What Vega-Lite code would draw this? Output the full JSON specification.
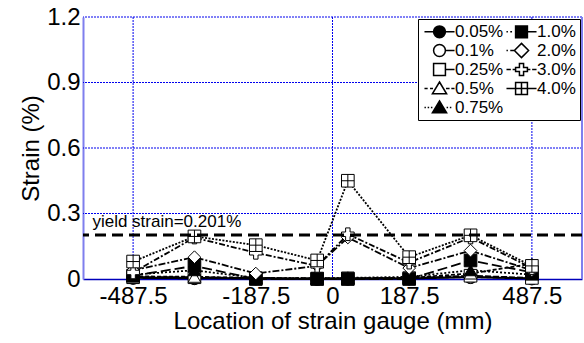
{
  "$schema": "https://vega.github.io/schema/vega-lite/v6.json",
  "width": 499,
  "height": 262,
  "autosize": "none",
  "padding": {"left": 83, "top": 17, "right": 2, "bottom": 64},
  "background": "white",
  "config": {
    "view": {"stroke": null},
    "font": "Liberation Sans",
    "axis": {"labelFont": "Liberation Sans", "titleFont": "Liberation Sans", "labelColor": "black", "titleColor": "black", "titleFontWeight": "normal"}
  },
  "datasets": {
    "strain": [
      {"loc": -487.5, "series": "0.05%", "strain": 0.005}, {"loc": -337.5, "series": "0.05%", "strain": 0.003}, {"loc": -187.5, "series": "0.05%", "strain": 0.002}, {"loc": -37.5, "series": "0.05%", "strain": 0.0}, {"loc": 37.5, "series": "0.05%", "strain": 0.001}, {"loc": 187.5, "series": "0.05%", "strain": 0.002}, {"loc": 337.5, "series": "0.05%", "strain": 0.008}, {"loc": 487.5, "series": "0.05%", "strain": 0.002},
      {"loc": -487.5, "series": "0.1%", "strain": 0.006}, {"loc": -337.5, "series": "0.1%", "strain": 0.006}, {"loc": -187.5, "series": "0.1%", "strain": 0.003}, {"loc": -37.5, "series": "0.1%", "strain": 0.001}, {"loc": 37.5, "series": "0.1%", "strain": 0.002}, {"loc": 187.5, "series": "0.1%", "strain": 0.003}, {"loc": 337.5, "series": "0.1%", "strain": 0.01}, {"loc": 487.5, "series": "0.1%", "strain": 0.003},
      {"loc": -487.5, "series": "0.25%", "strain": 0.008}, {"loc": -337.5, "series": "0.25%", "strain": 0.008}, {"loc": -187.5, "series": "0.25%", "strain": 0.004}, {"loc": -37.5, "series": "0.25%", "strain": 0.002}, {"loc": 37.5, "series": "0.25%", "strain": 0.003}, {"loc": 187.5, "series": "0.25%", "strain": 0.004}, {"loc": 337.5, "series": "0.25%", "strain": 0.015}, {"loc": 487.5, "series": "0.25%", "strain": 0.005},
      {"loc": -487.5, "series": "0.5%", "strain": 0.012}, {"loc": -337.5, "series": "0.5%", "strain": 0.01}, {"loc": -187.5, "series": "0.5%", "strain": 0.005}, {"loc": -37.5, "series": "0.5%", "strain": 0.003}, {"loc": 37.5, "series": "0.5%", "strain": 0.004}, {"loc": 187.5, "series": "0.5%", "strain": 0.005}, {"loc": 337.5, "series": "0.5%", "strain": 0.025}, {"loc": 487.5, "series": "0.5%", "strain": 0.07},
      {"loc": -487.5, "series": "0.75%", "strain": 0.02}, {"loc": -337.5, "series": "0.75%", "strain": 0.04}, {"loc": -187.5, "series": "0.75%", "strain": 0.005}, {"loc": -37.5, "series": "0.75%", "strain": 0.003}, {"loc": 37.5, "series": "0.75%", "strain": 0.005}, {"loc": 187.5, "series": "0.75%", "strain": 0.01}, {"loc": 337.5, "series": "0.75%", "strain": 0.04}, {"loc": 487.5, "series": "0.75%", "strain": 0.02},
      {"loc": -487.5, "series": "1.0%", "strain": 0.015}, {"loc": -337.5, "series": "1.0%", "strain": 0.06}, {"loc": -187.5, "series": "1.0%", "strain": 0.0}, {"loc": -37.5, "series": "1.0%", "strain": 0.0}, {"loc": 37.5, "series": "1.0%", "strain": 0.0}, {"loc": 187.5, "series": "1.0%", "strain": 0.0}, {"loc": 337.5, "series": "1.0%", "strain": 0.085}, {"loc": 487.5, "series": "1.0%", "strain": 0.03},
      {"loc": -487.5, "series": "2.0%", "strain": 0.04}, {"loc": -337.5, "series": "2.0%", "strain": 0.1}, {"loc": -187.5, "series": "2.0%", "strain": 0.025}, {"loc": -37.5, "series": "2.0%", "strain": 0.06}, {"loc": 37.5, "series": "2.0%", "strain": 0.19}, {"loc": 187.5, "series": "2.0%", "strain": 0.05}, {"loc": 337.5, "series": "2.0%", "strain": 0.13}, {"loc": 487.5, "series": "2.0%", "strain": 0.04},
      {"loc": -487.5, "series": "3.0%", "strain": 0.03}, {"loc": -337.5, "series": "3.0%", "strain": 0.19}, {"loc": -187.5, "series": "3.0%", "strain": 0.12}, {"loc": -37.5, "series": "3.0%", "strain": 0.06}, {"loc": 37.5, "series": "3.0%", "strain": 0.205}, {"loc": 187.5, "series": "3.0%", "strain": 0.075}, {"loc": 337.5, "series": "3.0%", "strain": 0.19}, {"loc": 487.5, "series": "3.0%", "strain": 0.05},
      {"loc": -487.5, "series": "4.0%", "strain": 0.08}, {"loc": -337.5, "series": "4.0%", "strain": 0.195}, {"loc": -187.5, "series": "4.0%", "strain": 0.155}, {"loc": -37.5, "series": "4.0%", "strain": 0.085}, {"loc": 37.5, "series": "4.0%", "strain": 0.45}, {"loc": 187.5, "series": "4.0%", "strain": 0.1}, {"loc": 337.5, "series": "4.0%", "strain": 0.2}, {"loc": 487.5, "series": "4.0%", "strain": 0.06}
    ],
    "vgrid": [{"x": -487.5}, {"x": 0}, {"x": 487.5}],
    "hgrid": [{"y": 0.3}, {"y": 0.6}, {"y": 0.9}, {"y": 1.2}],
    "yield": [{"y": 0.201, "x": -587, "label": "yield strain=0.201%"}],
    "edge": [{"x": 610}]
  },
  "resolve": {"legend": {"strokeDash": "independent"}, "scale": {"shape": "independent", "fill": "independent"}},
  "layer": [
    {
      "data": {"name": "vgrid"},
      "mark": {"type": "rule", "color": "#0000ee", "strokeDash": [2, 1], "strokeWidth": 1},
      "encoding": {"x": {"field": "x", "type": "quantitative", "scale": {"domain": [-610, 610], "nice": false},
          "axis": {"values": [-487.5, -187.5, 0, 187.5, 487.5], "labelExpr": "'' + datum.value", "title": "Location of strain gauge (mm)", "labelFontSize": 24, "titleFontSize": 24, "domainColor": "#0000bb", "domainWidth": 1.5, "ticks": false, "labelPadding": 5, "titlePadding": 1, "grid": false, "labelFlush": false}}}
    },
    {
      "data": {"name": "hgrid"},
      "mark": {"type": "rule", "color": "#0000ee", "strokeDash": [2, 1], "strokeWidth": 1},
      "encoding": {"y": {"field": "y", "type": "quantitative", "scale": {"domain": [0, 1.2], "nice": false},
          "axis": {"values": [0, 0.3, 0.6, 0.9, 1.2], "format": "~g", "title": "Strain (%)", "labelFontSize": 24, "titleFontSize": 24, "domainColor": "#7f7fee", "domainWidth": 2, "ticks": false, "labelPadding": 3, "titlePadding": 3, "grid": false}}}
    },
    {
      "data": {"name": "edge"},
      "mark": {"type": "rule", "color": "#7f7fee", "strokeWidth": 2},
      "encoding": {"x": {"field": "x", "type": "quantitative"}}
    },
    {
      "data": {"name": "strain"},
      "mark": {"type": "line", "color": "black", "strokeWidth": 1.8},
      "encoding": {
        "x": {"field": "loc", "type": "quantitative"},
        "y": {"field": "strain", "type": "quantitative"},
        "detail": {"field": "series"},
        "strokeDash": {"field": "series", "type": "nominal", "legend": null,
          "scale": {"domain": ["0.05%", "0.1%", "0.25%", "0.5%", "0.75%", "1.0%", "2.0%", "3.0%", "4.0%"],
            "range": [[1, 0], [1, 0], [6, 2], [4, 2], [2, 2], [10, 4], [7, 2, 2, 2], [6, 2, 2, 2], [2, 1.5]]}}
      }
    },
    {
      "data": {"name": "strain"},
      "mark": {"type": "point", "filled": true, "stroke": "black", "strokeWidth": 1, "size": 160, "opacity": 1},
      "encoding": {
        "x": {"field": "loc", "type": "quantitative"},
        "y": {"field": "strain", "type": "quantitative"},
        "shape": {"field": "series", "type": "nominal", "legend": null,
          "scale": {"domain": ["0.05%", "0.1%", "0.25%", "0.5%", "0.75%", "1.0%", "2.0%", "3.0%", "4.0%"],
            "range": ["circle", "circle", "square", "triangle-up", "triangle-up", "square", "diamond", "M-1,-0.35H-0.35V-1H0.35V-0.35H1V0.35H0.35V1H-0.35V0.35H-1Z", "M-1,-1H1V1H-1Z M0,-1V1 M-1,0H1"]}},
        "fill": {"field": "series", "type": "nominal", "legend": null,
          "scale": {"domain": ["0.05%", "0.1%", "0.25%", "0.5%", "0.75%", "1.0%", "2.0%", "3.0%", "4.0%"],
            "range": ["black", "white", "white", "white", "black", "black", "white", "white", "white"]}}
      }
    },
    {
      "data": {"name": "strain"},
      "transform": [{"filter": "false"}],
      "mark": {"type": "point", "filled": true, "stroke": "black", "strokeWidth": 1.5, "opacity": 1},
      "encoding": {
        "x": {"field": "loc", "type": "quantitative"},
        "y": {"field": "strain", "type": "quantitative"},
        "shape": {"field": "series", "type": "nominal",
          "scale": {"domain": ["0.05%", "0.1%", "0.25%", "0.5%", "0.75%", "1.0%", "2.0%", "3.0%", "4.0%"],
            "range": [
              "M-2.54,0H-1 M1,0H2.54 M1,0A1,1 0 1,1 -1,0A1,1 0 1,1 1,0Z",
              "M1,0H2.54 M1,0A1,1 0 1,1 -1,0A1,1 0 1,1 1,0Z",
              "M1,0H2.54 M-1,-1H1V1H-1Z",
              "M-2.54,0H-2.0 M-1.6,0H-1.1 M1.1,0H1.7 M2.0,0H2.54 M0,-1.1L1.2,0.9H-1.2Z",
              "M-2.54,0H-2.3 M-2.0,0H-1.75 M-1.45,0H-1.2 M1.2,0H1.45 M1.75,0H2.0 M0,-1.1L1.2,0.9H-1.2Z",
              "M-2.54,0H-2.3 M-1.9,0H-1.6 M1,0H2.54 M-1,-1H1V1H-1Z",
              "M-2.54,0H-2.3 M-1.9,0H-1.2 M0,-1.2L1.2,0L0,1.2L-1.2,0Z",
              "M-2.54,0H-1.8 M-1.5,0H-1 M1,0H1.5 M1.8,0H2.54 M-1,-0.35H-0.35V-1H0.35V-0.35H1V0.35H0.35V1H-0.35V0.35H-1Z",
              "M-2.54,0H-1 M1,0H2.54 M-1,-1H1V1H-1Z M0,-1V1 M-1,0H1"
            ]},
          "legend": {"title": null, "orient": "none", "legendX": 335, "legendY": 2, "columns": 2, "labelFontSize": 17, "labelFont": "Liberation Sans", "labelColor": "black", "symbolSize": 140, "symbolOpacity": 1, "strokeColor": "black", "fillColor": "white", "padding": 4, "rowPadding": -1, "columnPadding": -2, "symbolOffset": 9, "labelOffset": 7,
            "encode": {"symbols": {"update": {"stroke": {"value": "black"}, "strokeWidth": {"value": 1.5}, "opacity": {"value": 1}, "fillOpacity": {"value": 1}}}}}},
        "fill": {"field": "series", "type": "nominal",
          "scale": {"domain": ["0.05%", "0.1%", "0.25%", "0.5%", "0.75%", "1.0%", "2.0%", "3.0%", "4.0%"],
            "range": ["black", "white", "white", "white", "black", "black", "white", "white", "white"]},
          "legend": {"title": null, "orient": "none", "legendX": 335, "legendY": 2, "columns": 2, "labelFontSize": 17, "labelFont": "Liberation Sans", "labelColor": "black", "symbolSize": 140, "symbolOpacity": 1, "strokeColor": "black", "fillColor": "white", "padding": 4, "rowPadding": -1, "columnPadding": -2, "symbolOffset": 9, "labelOffset": 7,
            "encode": {"symbols": {"update": {"stroke": {"value": "black"}, "strokeWidth": {"value": 1.5}, "opacity": {"value": 1}, "fillOpacity": {"value": 1}}}}}}
      }
    },
    {
      "data": {"name": "yield"},
      "mark": {"type": "rule", "color": "black", "strokeWidth": 3, "strokeDash": [11, 6]},
      "encoding": {"y": {"field": "y", "type": "quantitative"}}
    },
    {
      "data": {"name": "yield"},
      "mark": {"type": "text", "align": "left", "baseline": "alphabetic", "dy": -8, "fontSize": 17, "font": "Liberation Sans", "color": "black"},
      "encoding": {"x": {"field": "x", "type": "quantitative"}, "y": {"field": "y", "type": "quantitative"}, "text": {"field": "label"}}
    }
  ]
}
